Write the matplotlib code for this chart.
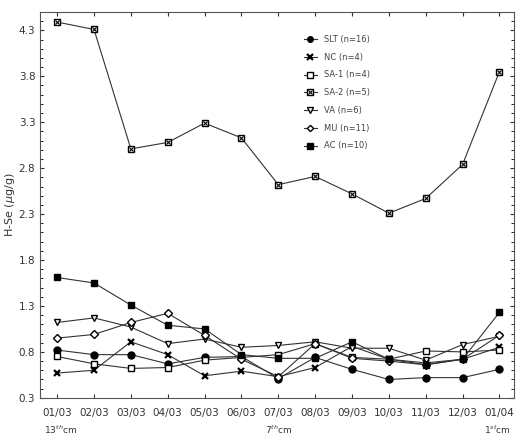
import matplotlib.pyplot as plt
from matplotlib.ticker import MultipleLocator
from matplotlib.legend_handler import HandlerTuple

dates = ['01/03', '02/03', '03/03', '04/03', '05/03', '06/03', '07/03',
         '08/03', '09/03', '10/03', '11/03', '12/03', '01/04']
depth = {0: '13$^{th}$cm', 6: '7$^{th}$cm', 12: '1$^{st}$cm'}

slt = [0.82, 0.77, 0.77, 0.67, 0.74, 0.75, 0.51, 0.74, 0.61, 0.50, 0.52, 0.52, 0.61]
nc = [0.57, 0.60, 0.91, 0.77, 0.54, 0.59, 0.53, 0.63, 0.86, 0.72, 0.68, 0.72, 0.85]
sa1 = [0.75, 0.67, 0.62, 0.63, 0.71, 0.74, 0.77, 0.89, 0.74, 0.72, 0.81, 0.80, 0.82]
sa2 = [4.39, 4.31, 3.01, 3.08, 3.29, 3.13, 2.62, 2.71, 2.52, 2.31, 2.47, 2.84, 3.85]
va = [1.12, 1.17, 1.07, 0.89, 0.94, 0.85, 0.87, 0.91, 0.84, 0.84, 0.71, 0.88, 0.97]
mu = [0.95, 0.99, 1.12, 1.22, 0.98, 0.72, 0.53, 0.89, 0.73, 0.70, 0.66, 0.72, 0.98]
ac = [1.61, 1.55, 1.31, 1.09, 1.05, 0.77, 0.73, 0.73, 0.91, 0.72, 0.66, 0.72, 1.23]

fig = plt.figure(figsize=(5.22, 4.44), dpi=100)
ax = fig.add_axes([0.077, 0.104, 0.908, 0.869])
x = range(len(dates))

kw = dict(color='#333333', lw=0.8, mec='black', ms=5)
h1, = ax.plot(x, slt, marker='o', mfc='black', **kw)
h2, = ax.plot(x, nc, marker='x', mew=1.6, **kw)
h3, = ax.plot(x, sa1, marker='s', mfc='white', **kw)
h4, = ax.plot(x, sa2, marker='s', mfc='white', **kw)
h4x, = ax.plot(x, sa2, ls='none', marker='x', color='black', ms=3.5, mew=0.8)
h5, = ax.plot(x, va, marker='v', mfc='white', **kw)
h6, = ax.plot(x, mu, marker='D', mfc='white', color='#333333', lw=0.8, mec='black', ms=4)
h7, = ax.plot(x, ac, marker='s', mfc='black', **kw)

ax.set_xlim(-0.46, 12.4)
ax.set_ylim(0.3, 4.5)
yt = [0.3, 0.8, 1.3, 1.8, 2.3, 2.8, 3.3, 3.8, 4.3]
ax.set_yticks(yt)
ax.set_yticklabels([f'{v:.1f}' for v in yt])
ax.yaxis.set_minor_locator(MultipleLocator(0.1))
ax.set_xticks(list(x))
ax.set_xticklabels(dates)
ax.tick_params(axis='both', labelsize=7.5, colors='#333333', length=3, direction='in',
               top=True, right=True)
ax.tick_params(axis='x', pad=7)
ax.tick_params(which='minor', length=2, direction='in', right=True)
ax.set_ylabel('H-Se ($\\mu$g/g)', fontsize=8, color='#333333', labelpad=1)

# depth notes under three of the dates
trans = ax.get_xaxis_transform()
ax.text(-0.35, -0.083, depth[0], transform=trans, fontsize=6.5, color='#333333', ha='left', va='center')
ax.text(6, -0.083, depth[6], transform=trans, fontsize=6.5, color='#333333', ha='center', va='center')
ax.text(12.3, -0.083, depth[12], transform=trans, fontsize=6.5, color='#333333', ha='right', va='center')

for s in ax.spines.values():
    s.set_color('#555555')
    s.set_linewidth(0.8)

ax.legend([h1, h2, h3, (h4, h4x), h5, h6, h7],
          ['SLT (n=16)', 'NC (n=4)', 'SA-1 (n=4)', 'SA-2 (n=5)', 'VA (n=6)', 'MU (n=11)', 'AC (n=10)'],
          handler_map={tuple: HandlerTuple(ndivide=1, pad=0)},
          loc='upper left', bbox_to_anchor=(0.54, 0.96), frameon=False, fontsize=6,
          labelcolor='#444444', handlelength=1.6, labelspacing=1.05, markerscale=0.8)

fig.savefig('out.png', dpi=100)
